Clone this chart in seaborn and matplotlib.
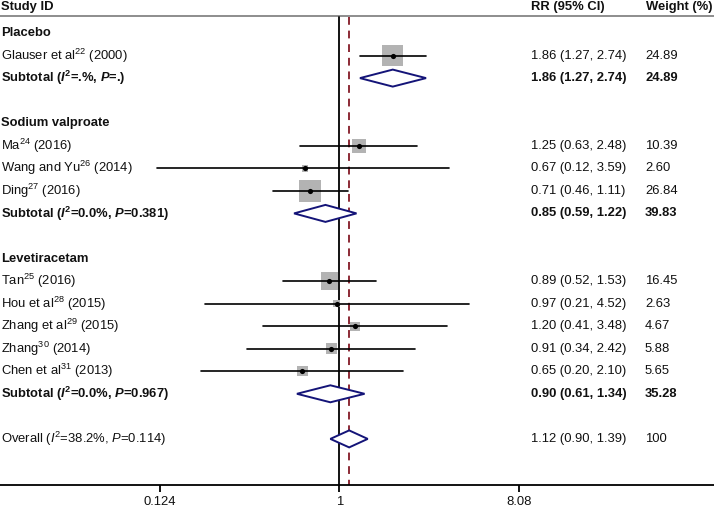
import numpy as np
import pandas as pd
import matplotlib
matplotlib.use("Agg")
import matplotlib.pyplot as plt
import seaborn as sns

# ---------------- data ----------------
study_labels = [
    "Glauser et al$^{22}$ (2000)",
    "Ma$^{24}$ (2016)",
    "Wang and Yu$^{26}$ (2014)",
    "Ding$^{27}$ (2016)",
    "Tan$^{25}$ (2016)",
    "Hou et al$^{28}$ (2015)",
    "Zhang et al$^{29}$ (2015)",
    "Zhang$^{30}$ (2014)",
    "Chen et al$^{31}$ (2013)",
]
study_group = ["Placebo", "Sodium valproate", "Sodium valproate", "Sodium valproate",
               "Levetiracetam", "Levetiracetam", "Levetiracetam", "Levetiracetam", "Levetiracetam"]
study_rr = [1.86, 1.25, 0.67, 0.71, 0.89, 0.97, 1.20, 0.91, 0.65]
study_lo = [1.27, 0.63, 0.12, 0.46, 0.52, 0.21, 0.41, 0.34, 0.20]
study_hi = [2.74, 2.48, 3.59, 1.11, 1.53, 4.52, 3.48, 2.42, 2.10]
study_w = [24.89, 10.39, 2.60, 26.84, 16.45, 2.63, 4.67, 5.88, 5.65]

groups = ["Placebo", "Sodium valproate", "Levetiracetam"]
sub_labels = [
    r"Subtotal ($\mathbfit{I}^{\mathbf{2}}$=.%, $\mathbfit{P}$=.)",
    r"Subtotal ($\mathbfit{I}^{\mathbf{2}}$=0.0%, $\mathbfit{P}$=0.381)",
    r"Subtotal ($\mathbfit{I}^{\mathbf{2}}$=0.0%, $\mathbfit{P}$=0.967)",
]
sub_rr = [1.86, 0.85, 0.90]
sub_lo = [1.27, 0.59, 0.61]
sub_hi = [2.74, 1.22, 1.34]
sub_w = ["24.89", "39.83", "35.28"]

overall_label = r"Overall ($\mathit{I}^2$=38.2%, $\mathit{P}$=0.114)"
overall_rr, overall_lo, overall_hi, overall_w = 1.12, 0.90, 1.39, "100"

xticks = [0.124, 1, 8.08]
xticklabels = ["0.124", "1", "8.08"]

# ---------------- style ----------------
sns.set_theme(style="white")
plt.rcParams["font.family"] = ["Liberation Sans", "DejaVu Sans"]
plt.rcParams["mathtext.fontset"] = "custom"
plt.rcParams["mathtext.rm"] = "Liberation Sans"
plt.rcParams["mathtext.it"] = "Liberation Sans:italic"
plt.rcParams["mathtext.bf"] = "Liberation Sans:bold"
plt.rcParams["mathtext.bfit"] = "Liberation Sans:bold:italic"

W, H = 714, 509
fig = plt.figure(figsize=(W / 100, H / 100), dpi=100)
ax = fig.add_axes([0, 0, 1, 1])
ax.set_xscale("log")
# map: 0.124 -> 160 px, 8.08 -> 519 px
ppl = (519 - 160) / (np.log(8.08) - np.log(0.124))
xmin = np.exp(np.log(0.124) - 160 / ppl)
xmax = np.exp(np.log(0.124) + (W - 160) / ppl)
ax.set_xlim(xmin, xmax)
ax.set_ylim(H, 0)

fs = 9.4
TXT = "#111111"
y0, dy = 33.0, 22.55
ytrans = ax.get_yaxis_transform()  # x in axes fraction, y in data

def xf(px):
    return px / W

# build rows
rows = []
r = 0
for gi, g in enumerate(groups):
    rows.append(("group", g, r)); r += 1
    for i, sg in enumerate(study_group):
        if sg == g:
            rows.append(("study", i, r)); r += 1
    rows.append(("sub", gi, r)); r += 2
rows.append(("overall", None, r))

ypos = lambda k: y0 + dy * k

# study dataframe for seaborn
study_rows = {i: k for (t, i, k) in rows if t == "study"}
df = pd.DataFrame({
    "rr": study_rr, "lo": study_lo, "hi": study_hi, "w": study_w,
    "y": [ypos(study_rows[i]) for i in range(len(study_rr))],
})
side_px = 4.3 * np.sqrt(df["w"])
df["s"] = (side_px * 0.72) ** 2

# reference lines
ax.plot([1, 1], [17, 485], color="black", lw=1.3, zorder=2)
ax.plot([overall_rr, overall_rr], [17, 485], color="#8c2a35", lw=1.4,
        dashes=(4, 3), zorder=2)

# CI lines
for _, rw in df.iterrows():
    ax.plot([rw.lo, rw.hi], [rw.y, rw.y], color="black", lw=1.2, zorder=3)

sns.scatterplot(data=df, x="rr", y="y", s=df["s"].values, marker="s",
                color="#b3b3b3", linewidth=0, ax=ax, legend=False, zorder=2.5)
sns.scatterplot(data=df, x="rr", y="y", s=14, marker="o", color="black",
                linewidth=0, ax=ax, legend=False, zorder=4)

def diamond(rr, lo, hi, y):
    h = 8.5
    xs = [lo, rr, hi, rr, lo]
    ys = [y, y - h, y, y + h, y]
    ax.fill(xs, ys, facecolor="white", edgecolor="#141478", lw=1.4, zorder=5)

# text
for (t, i, k) in rows:
    y = ypos(k)
    if t == "group":
        ax.text(xf(1), y, i, transform=ytrans, ha="left", va="center",
                fontsize=fs, fontweight="bold", color=TXT)
    elif t == "study":
        ax.text(xf(1), y, study_labels[i], transform=ytrans, ha="left", va="center",
                fontsize=fs, color=TXT)
        ax.text(xf(531), y, f"{study_rr[i]:.2f} ({study_lo[i]:.2f}, {study_hi[i]:.2f})",
                transform=ytrans, ha="left", va="center", fontsize=fs, color=TXT)
        ax.text(xf(645), y, f"{study_w[i]:.2f}", transform=ytrans, ha="left",
                va="center", fontsize=fs, color=TXT)
    elif t == "sub":
        ax.text(xf(1), y, sub_labels[i], transform=ytrans, ha="left", va="center",
                fontsize=fs, fontweight="bold", color=TXT)
        ax.text(xf(531), y, f"{sub_rr[i]:.2f} ({sub_lo[i]:.2f}, {sub_hi[i]:.2f})",
                transform=ytrans, ha="left", va="center", fontsize=fs,
                fontweight="bold", color=TXT)
        ax.text(xf(645), y, sub_w[i], transform=ytrans, ha="left", va="center",
                fontsize=fs, fontweight="bold", color=TXT)
        diamond(sub_rr[i], sub_lo[i], sub_hi[i], y)
    else:
        ax.text(xf(1), y, overall_label, transform=ytrans, ha="left", va="center",
                fontsize=fs, color=TXT)
        ax.text(xf(531), y, f"{overall_rr:.2f} ({overall_lo:.2f}, {overall_hi:.2f})",
                transform=ytrans, ha="left", va="center", fontsize=fs, color=TXT)
        ax.text(xf(645), y, overall_w, transform=ytrans, ha="left", va="center",
                fontsize=fs, color=TXT)
        diamond(overall_rr, overall_lo, overall_hi, y)

# header
ax.text(xf(1), 7, "Study ID", transform=ytrans, ha="left", va="center",
        fontsize=fs, fontweight="bold", color=TXT)
ax.text(xf(531), 7, "RR (95% CI)", transform=ytrans, ha="left", va="center",
        fontsize=fs, fontweight="bold", color=TXT)
ax.text(xf(646), 7, "Weight (%)", transform=ytrans, ha="left", va="center",
        fontsize=fs, fontweight="bold", color=TXT)
ax.plot([0, 1], [16, 16], transform=ytrans, color="#7a7a7a", lw=1.2,
        clip_on=False, zorder=1)

# axis
for sp in ["top", "left", "right"]:
    ax.spines[sp].set_visible(False)
ax.spines["bottom"].set_position(("data", 485))
ax.spines["bottom"].set_color("black")
ax.spines["bottom"].set_linewidth(1.3)
ax.set_yticks([])
ax.set_xticks(xticks)
ax.set_xticklabels(xticklabels)
ax.xaxis.set_minor_locator(matplotlib.ticker.NullLocator())
ax.tick_params(axis="x", direction="out", length=5, width=1.3, color="black",
               labelsize=fs, labelcolor=TXT, bottom=True, pad=3)
ax.set_xlabel("")
ax.set_ylabel("")
ax.grid(False)

fig.savefig("out.png", dpi=100)
